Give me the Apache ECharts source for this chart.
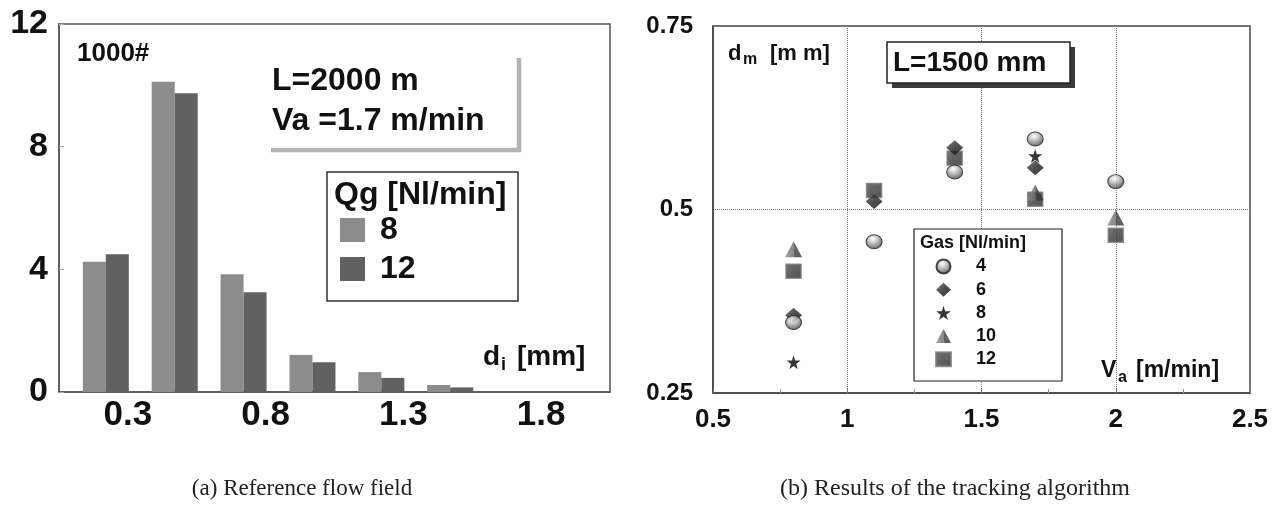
<!DOCTYPE html>
<html>
<head>
<meta charset="utf-8">
<script src="https://cdn.jsdelivr.net/npm/echarts@6/dist/echarts.min.js"></script>
<style>
  html, body { margin: 0; padding: 0; background: #ffffff; }
  #chart { width: 1280px; height: 508px; }
</style>
</head>
<body>
<div id="chart"></div>
<script>
// ---- (a) droplet size histogram, L = 2000 m, Va = 1.7 m/min ----
const binCenters = [0.22, 0.47, 0.72, 0.97, 1.22, 1.47];      // d_i [mm]
const countsQg8  = [4.25, 10.12, 3.84, 1.21, 0.65, 0.23];     // x1000 droplets
const countsQg12 = [4.49, 9.74, 3.25, 0.97, 0.46, 0.15];
const diameterTicks = [0.3, 0.8, 1.3, 1.8];

// ---- (b) mean diameter d_m [mm] vs. speed Va [m/min], L = 1500 mm ----
const speeds = [0.8, 1.1, 1.4, 1.7, 2.0];
const gas4  = [0.346, 0.456, 0.551, 0.596, 0.538];
const gas6  = [0.356, 0.511, 0.584, 0.557, null];
const gas8  = [0.292, null, null, 0.573, null];
const gas10 = [0.446, null, null, 0.523, 0.489];
const gas12 = [0.416, 0.526, 0.570, 0.514, 0.465];

const SANS = '"Liberation Sans", Arial, Helvetica, sans-serif';
const SERIF = '"Liberation Serif", "DejaVu Serif", serif';
const INK = '#111111';

const pairs = (xs, ys) => xs.map((x, i) => [x, ys[i]]).filter(p => p[1] != null);

const starPath = 'path://M50,0 L61,35 L98,35 L68,57 L79,91 L50,70 L21,91 L32,57 L2,35 L39,35 Z';

// shaded "3D" marker fills
const markerStyles = {
  circle: {
    color: { type: 'radial', x: 0.42, y: 0.3, r: 0.75,
      colorStops: [{ offset: 0, color: '#ffffff' }, { offset: 0.4, color: '#b4b4b4' }, { offset: 1, color: '#2e2e2e' }] },
    borderColor: '#1e1e1e', borderWidth: 1
  },
  diamond: {
    color: { type: 'linear', x: 0, y: 0, x2: 1, y2: 1,
      colorStops: [{ offset: 0, color: '#5c5c5c' }, { offset: 0.5, color: '#222222' }, { offset: 1, color: '#0c0c0c' }] }
  },
  star: { color: '#050505' },
  triangle: {
    color: { type: 'linear', x: 0, y: 0, x2: 1, y2: 0,
      colorStops: [{ offset: 0, color: '#8e8e8e' }, { offset: 0.5, color: '#6a6a6a' }, { offset: 0.55, color: '#3e3e3e' }, { offset: 1, color: '#2e2e2e' }] }
  },
  square: {
    color: { type: 'linear', x: 0, y: 0, x2: 1, y2: 1,
      colorStops: [{ offset: 0, color: '#505050' }, { offset: 0.5, color: '#3a3a3a' }, { offset: 1, color: '#262626' }] },
    borderColor: '#7c7c7c', borderWidth: 1.5
  }
};

function scatterSeries(name, ys, symbol, size, style, z) {
  return {
    name: name, type: 'scatter', xAxisIndex: 1, yAxisIndex: 1,
    data: pairs(speeds, ys), symbol: symbol, symbolSize: size,
    itemStyle: style, z: z
  };
}

// helper for free text
function txt(x, y, text, size, opts) {
  opts = opts || {};
  return {
    type: 'text', x: x, y: y, z: 30,
    style: {
      text: text, fill: opts.fill || INK,
      font: (opts.weight || 'bold') + ' ' + size + 'px ' + (opts.family || SANS),
      align: opts.align || 'left', verticalAlign: 'middle'
    }
  };
}

const chart = echarts.init(document.getElementById('chart'), null, { renderer: 'canvas' });

chart.setOption({
  animation: false,
  backgroundColor: '#ffffff',
  grid: [
    { left: 59, right: 670, top: 24, bottom: 116, show: true, borderColor: '#555', borderWidth: 1.5, backgroundColor: 'transparent' },
    { left: 713, right: 30, top: 26, bottom: 115, show: true, borderColor: '#444', borderWidth: 1.5, backgroundColor: 'transparent' }
  ],
  xAxis: [
    {
      gridIndex: 0, type: 'value', min: 0.05, max: 2.05,
      axisLine: { show: true, lineStyle: { color: '#555', width: 1.5 } },
      axisTick: { show: false },
      splitLine: { show: false },
      axisLabel: {
        customValues: diameterTicks, margin: 6,
        color: INK, fontFamily: SANS, fontWeight: 'bold', fontSize: 35
      }
    },
    {
      gridIndex: 1, type: 'value', min: 0.5, max: 2.5, interval: 0.5,
      axisLine: { show: true, lineStyle: { color: '#444', width: 1.5 } },
      axisTick: { show: true, inside: true, length: 4, lineStyle: { color: '#777' } },
      minorTick: { show: true, splitNumber: 2, length: 4, lineStyle: { color: '#999' } },
      splitLine: { show: true, lineStyle: { color: '#7a7a7a', width: 1, type: [1, 1] } },
      axisLabel: { margin: 14, color: INK, fontFamily: SANS, fontWeight: 'bold', fontSize: 26 }
    }
  ],
  yAxis: [
    {
      gridIndex: 0, type: 'value', min: 0, max: 12, interval: 4,
      axisLine: { show: true, lineStyle: { color: '#555', width: 1.5 } },
      axisTick: { show: true, inside: true, length: 5, lineStyle: { color: '#aaa' } },
      splitLine: { show: false },
      axisLabel: { margin: 11, color: INK, fontFamily: SANS, fontWeight: 'bold', fontSize: 34 }
    },
    {
      gridIndex: 1, type: 'value', min: 0.25, max: 0.75, interval: 0.25,
      axisLine: { show: true, lineStyle: { color: '#444', width: 1.5 } },
      axisTick: { show: false },
      splitLine: { show: true, lineStyle: { color: '#7a7a7a', width: 1, type: [1, 1] } },
      axisLabel: { margin: 20, color: INK, fontFamily: SANS, fontWeight: 'bold', fontSize: 24 }
    }
  ],
  legend: [
    {
      data: ['Qg 8', 'Qg 12'], orient: 'vertical', left: 340, top: 214, padding: 0,
      itemWidth: 25, itemHeight: 24, itemGap: 7, icon: 'rect', z: 40,
      selectedMode: false,
      formatter: n => n.split(' ')[1],
      textStyle: { color: INK, fontFamily: SANS, fontWeight: 'bold', fontSize: 32, lineHeight: 32, padding: [0, 0, 0, 10] }
    },
    {
      data: ['Gas 4', 'Gas 6', 'Gas 8', 'Gas 10', 'Gas 12'], orient: 'vertical', left: 935, top: 257.5, padding: 0,
      itemWidth: 15, itemHeight: 14, itemGap: 5.2, z: 40,
      selectedMode: false,
      formatter: n => n.split(' ')[1],
      textStyle: { color: INK, fontFamily: SANS, fontWeight: 'bold', fontSize: 18, lineHeight: 18, padding: [0, 0, 0, 20] }
    }
  ],
  series: [
    {
      name: 'Qg 8', type: 'bar', xAxisIndex: 0, yAxisIndex: 0,
      data: pairs(binCenters, countsQg8), barWidth: 23, barGap: '0%',
      itemStyle: { color: '#8c8c8c' }
    },
    {
      name: 'Qg 12', type: 'bar', xAxisIndex: 0, yAxisIndex: 0,
      data: pairs(binCenters, countsQg12), barWidth: 23, barGap: '0%',
      itemStyle: { color: '#616161' }
    },
    scatterSeries('Gas 4', gas4, 'circle', [16, 14], markerStyles.circle, 7),
    scatterSeries('Gas 6', gas6, 'diamond', [17, 15], markerStyles.diamond, 6),
    scatterSeries('Gas 8', gas8, starPath, [14, 14], markerStyles.star, 5),
    scatterSeries('Gas 10', gas10, 'triangle', [17, 16], markerStyles.triangle, 4),
    scatterSeries('Gas 12', gas12, 'rect', [15, 14], markerStyles.square, 3)
  ],
  graphic: [
    // annotations inside panel (a)
    txt(77, 54, '1000#', 26),
    txt(272, 81, 'L=2000 m', 32),
    txt(272, 121, 'Va =1.7 m/min', 32),
    {
      type: 'polyline', z: 25,
      shape: { points: [[271, 150], [519, 150], [519, 58]] },
      style: { stroke: '#b4b4b4', lineWidth: 4.5, fill: null }
    },
    {
      type: 'rect', z: 25,
      shape: { x: 327, y: 172, width: 191, height: 129 },
      style: { fill: '#ffffff', stroke: '#333', lineWidth: 1.5 }
    },
    txt(334, 195, 'Qg [Nl/min]', 32),
    txt(483, 357, 'd', 28),
    txt(501, 365, 'i', 18),
    txt(517, 357, '[mm]', 28),

    // annotations inside panel (b)
    txt(728, 54, 'd', 22),
    txt(743, 60, 'm', 16),
    txt(770, 54, '[m m]', 22),
    {
      type: 'rect', z: 24,
      shape: { x: 892, y: 47, width: 183, height: 41 },
      style: { fill: '#3a3a3a' }
    },
    {
      type: 'rect', z: 25,
      shape: { x: 887, y: 42, width: 183, height: 41 },
      style: { fill: '#ffffff', stroke: '#222', lineWidth: 1.5 }
    },
    txt(893, 63, 'L=1500 mm', 28),
    {
      type: 'rect', z: 25,
      shape: { x: 914, y: 229, width: 148, height: 152 },
      style: { fill: '#ffffff', stroke: '#222', lineWidth: 1.2 }
    },
    txt(920, 243, 'Gas [Nl/min]', 18),
    txt(1101, 371, 'V', 23),
    txt(1118, 378, 'a', 16),
    txt(1136, 371, '[m/min]', 23),

    // sub-figure captions
    txt(302, 489, '(a) Reference flow field', 23, { weight: 'normal', family: SERIF, align: 'center', fill: '#222' }),
    txt(955, 489, '(b) Results of the tracking algorithm', 24, { weight: 'normal', family: SERIF, align: 'center', fill: '#222' })
  ]
});
</script>
</body>
</html>
